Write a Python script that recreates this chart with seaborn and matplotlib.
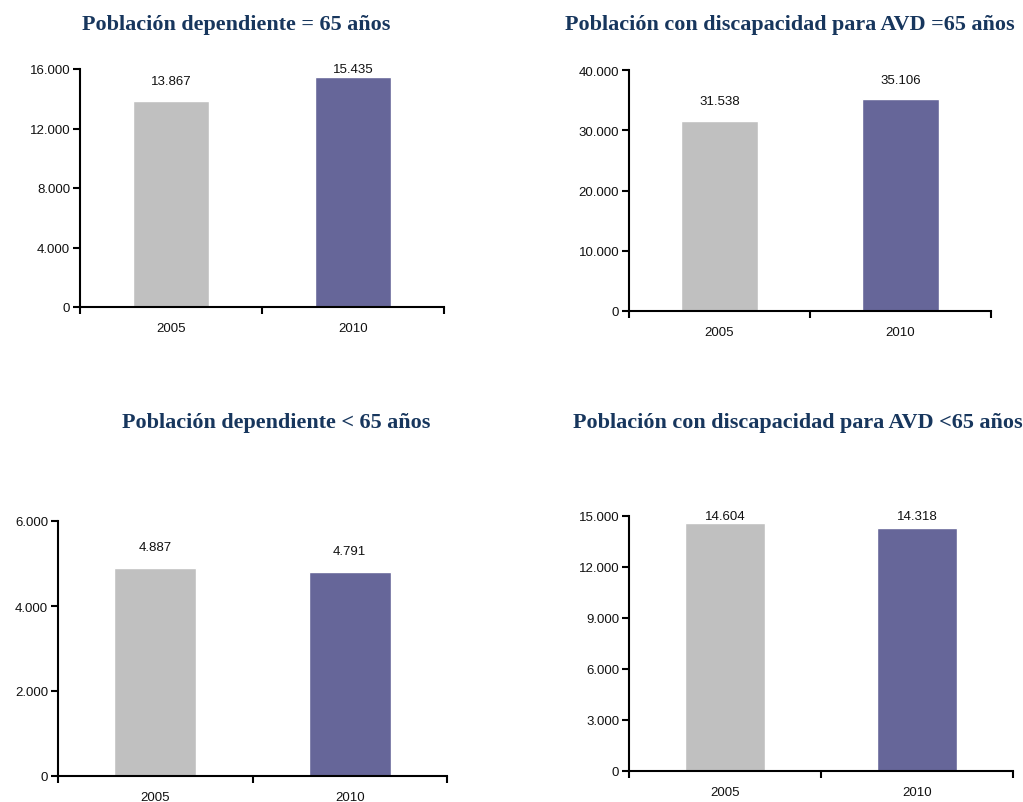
import matplotlib
matplotlib.use("Agg")
import matplotlib.pyplot as plt
import seaborn as sns
import pandas as pd
from matplotlib.ticker import FixedLocator, FuncFormatter

# ---- data ----
years = ["2005", "2010"]
titles = [
    "Población dependiente = 65 años",
    "Población con discapacidad para AVD =65 años",
    "Población dependiente < 65 años",
    "Población con discapacidad para AVD <65 años",
]
values_dep_65 = [13867, 15435]
values_disc_65 = [31538, 35106]
values_dep_lt65 = [4887, 4791]
values_disc_lt65 = [14604, 14318]
yticks_dep_65 = [0, 4000, 8000, 12000, 16000]
yticks_disc_65 = [0, 10000, 20000, 30000, 40000]
yticks_dep_lt65 = [0, 2000, 4000, 6000]
yticks_disc_lt65 = [0, 3000, 6000, 9000, 12000, 15000]

series = [values_dep_65, values_disc_65, values_dep_lt65, values_disc_lt65]
yticks = [yticks_dep_65, yticks_disc_65, yticks_dep_lt65, yticks_disc_lt65]

palette = {"2005": "#c0c0c0", "2010": "#666699"}
title_color = "#17365d"

sns.set_style("ticks")
plt.rcParams["font.family"] = ["Liberation Sans", "DejaVu Sans"]

W, H = 1023, 803
fig = plt.figure(figsize=(W / 100, H / 100), dpi=100)

# axes boxes in pixels: left, top, right, bottom
boxes = [(80, 70, 444, 308), (629, 71, 991, 312), (58, 522, 447, 777), (629, 517, 1013, 772)]
title_pos = [(236, 25), (790, 25), (276, 423), (798, 423)]


def fmt(v, pos=None):
    return f"{int(v):,}".replace(",", ".")


for vals, ticks, box, title, tpos in zip(series, yticks, boxes, titles, title_pos):
    l, t, r, b = box
    ax = fig.add_axes([l / W, 1 - b / H, (r - l) / W, (b - t) / H])
    df = pd.DataFrame({"year": years, "value": vals})
    sns.barplot(data=df, x="year", y="value", hue="year", palette=palette,
                legend=False, width=0.42, ax=ax, saturation=1)
    ymax = ticks[-1]
    ax.set_xlim(-0.5, 1.5)
    ax.set_ylim(0, ymax)
    ax.set_xlabel("")
    ax.set_ylabel("")
    ax.yaxis.set_major_locator(FixedLocator(ticks))
    ax.yaxis.set_major_formatter(FuncFormatter(fmt))
    ax.xaxis.set_major_locator(FixedLocator([-0.5, 0.5, 1.5]))
    ax.xaxis.set_major_formatter(FuncFormatter(lambda v, p: ""))
    ax.xaxis.set_minor_locator(FixedLocator([0, 1]))
    ax.xaxis.set_minor_formatter(FuncFormatter(lambda v, p: years[int(round(v))]))
    ax.tick_params(axis="x", which="major", length=5, width=1.5, direction="out", color="black")
    ax.tick_params(axis="x", which="minor", length=0, pad=11, labelsize=9.5, labelcolor="#111111")
    ax.tick_params(axis="y", which="major", length=5, width=1.5, direction="out", pad=2,
                   labelsize=9.5, labelcolor="#111111", color="black")
    for side in ["top", "right"]:
        ax.spines[side].set_visible(False)
    for side in ["left", "bottom"]:
        ax.spines[side].set_linewidth(1.5)
        ax.spines[side].set_color("black")
    for i, v in enumerate(vals):
        yf = min(v / ymax + 0.082, 1.0)
        ax.text(i, yf, fmt(v), transform=ax.get_xaxis_transform(), ha="center", va="center",
                fontsize=9.5, color="#111111")
    fig.text(tpos[0] / W, 1 - tpos[1] / H, title, ha="center", va="center",
             fontsize=15.9, fontweight="bold", color=title_color,
             family=["Liberation Serif", "DejaVu Serif"])

fig.savefig("out.png", dpi=100)
